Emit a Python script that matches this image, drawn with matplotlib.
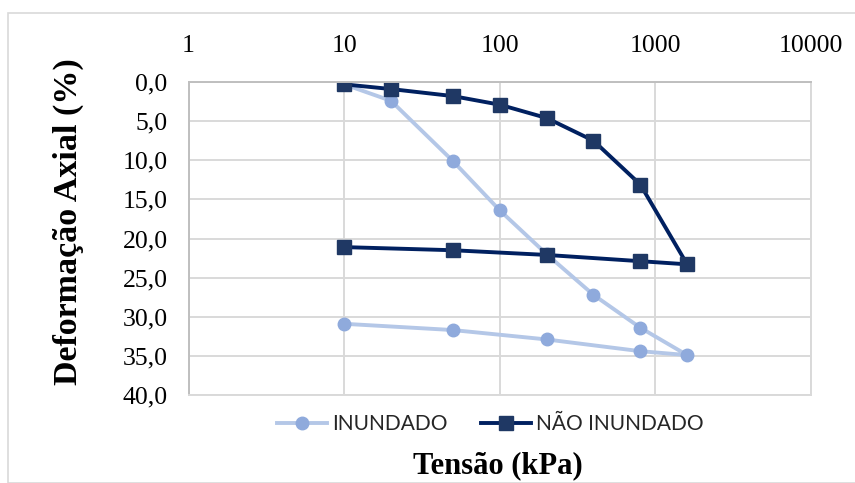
import matplotlib.pyplot as plt
from matplotlib.patches import Rectangle
from matplotlib.ticker import FixedLocator, FuncFormatter

# tensão (kPa) - carregamento e descarregamento
tensao = [10, 20, 50, 100, 200, 400, 800, 1600, 800, 200, 50, 10]
inundado = [0.3, 2.4, 10.1, 16.4, 22.0, 27.2, 31.4, 34.9, 34.4, 32.9, 31.7, 30.9]
nao_inundado = [0.3, 0.9, 1.8, 2.9, 4.6, 7.5, 13.1, 23.3, 22.9, 22.1, 21.5, 21.1]

xticks = [1, 10, 100, 1000, 10000]
yticks = [0, 5, 10, 15, 20, 25, 30, 35, 40]

fig = plt.figure(figsize=(8.55, 4.83), dpi=100)
ax = fig.add_axes([188.5 / 855, 1 - 395 / 483, (811 - 188.5) / 855, (395 - 82) / 483])

# moldura externa do gráfico
fig.patches.append(Rectangle((8 / 855, 0), 1, 1 - 13 / 483, transform=fig.transFigure,
                             fill=False, edgecolor='#D9D9D9', linewidth=1.2))

ax.plot(tensao, inundado, color='#B4C7E7', linewidth=2.8, marker='o', markersize=9,
        markerfacecolor='#8FAADC', markeredgecolor='#8FAADC', label='INUNDADO')
ax.plot(tensao, nao_inundado, color='#002060', linewidth=2.8, marker='s', markersize=10,
        markerfacecolor='#1F3864', markeredgecolor='#1F3864', label='NÃO INUNDADO')

ax.set_xscale('log')
ax.set_xlim(1, 10000)
ax.set_ylim(40, 0)
ax.xaxis.set_major_locator(FixedLocator(xticks))
ax.xaxis.set_minor_locator(FixedLocator([]))
ax.xaxis.set_major_formatter(FuncFormatter(lambda v, p: '%d' % v))
ax.yaxis.set_major_locator(FixedLocator(yticks))
ax.yaxis.set_major_formatter(FuncFormatter(lambda v, p: ('%.1f' % v).replace('.', ',')))
ax.xaxis.tick_top()

serif = ['Liberation Serif', 'DejaVu Serif']
for lbl in ax.get_xticklabels() + ax.get_yticklabels():
    lbl.set_fontfamily(serif)
    lbl.set_fontsize(18.5)
ax.tick_params(axis='both', length=0, colors='#000000')
ax.tick_params(axis='x', pad=18)
ax.tick_params(axis='y', pad=15)

ax.grid(True, color='#D9D9D9', linewidth=1.4)
ax.set_axisbelow(True)
for side in ['left', 'top']:
    ax.spines[side].set_color('#BFBFBF')
    ax.spines[side].set_linewidth(1.4)
for side in ['right', 'bottom']:
    ax.spines[side].set_color('#D9D9D9')
    ax.spines[side].set_linewidth(1.4)

fig.text(68 / 855, 1 - 222 / 483, 'Deformação Axial (%)', fontfamily=serif, fontsize=24.5,
         fontweight='bold', rotation=90, ha='center', va='center')
fig.text(498 / 855, 1 - 466 / 483, 'Tensão (kPa)', fontfamily=serif, fontsize=22,
         fontweight='bold', ha='center', va='center')

leg = fig.legend(loc='center', bbox_to_anchor=(490 / 855, 1 - 424 / 483), ncol=2, frameon=False,
                 prop={'family': 'Lato', 'size': 15}, handlelength=2.4, columnspacing=1.6,
                 handletextpad=0.25)
for t in leg.get_texts():
    t.set_color('#262626')

fig.savefig('out.png')
